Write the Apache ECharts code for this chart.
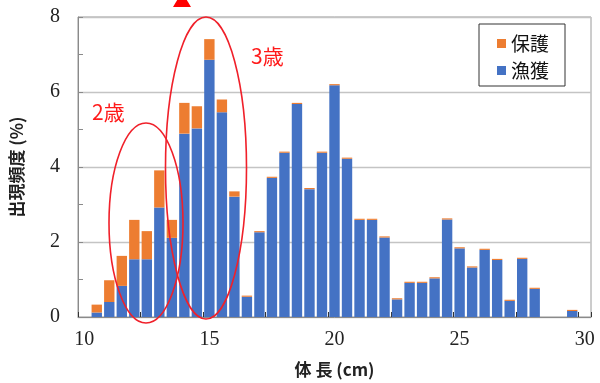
<!DOCTYPE html>
<html>
<head>
<meta charset="utf-8">
<script src="https://cdn.jsdelivr.net/npm/echarts@6/dist/echarts.min.js"></script>
<style>
html,body{margin:0;padding:0;background:#fff;}
#chart{width:600px;height:383px;}
</style>
</head>
<body>
<div id="chart"></div>
<script>
// 体長 (cm) categories, 0.5 cm bins
const categories = ['10','10.5','11','11.5','12','12.5','13','13.5','14','14.5',
  '15','15.5','16','16.5','17','17.5','18','18.5','19','19.5',
  '20','20.5','21','21.5','22','22.5','23','23.5','24','24.5',
  '25','25.5','26','26.5','27','27.5','28','28.5','29','29.5','30'];
// 漁獲 (%)
const catchValues = [0,0.12,0.40,0.83,1.54,1.54,2.92,2.11,4.89,5.03,
  6.86,5.46,3.21,0.54,2.26,3.71,4.38,5.68,3.41,4.38,
  6.18,4.22,2.59,2.59,2.12,0.47,0.91,0.91,1.03,2.60,
  1.83,1.32,1.79,1.52,0.43,1.55,0.75,0,0,0.16,0];
// 保護 (%)
const protectValues = [0,0.21,0.58,0.80,1.05,0.75,0.99,0.48,0.82,0.59,
  0.55,0.34,0.14,0.03,0.03,0.03,0.03,0.03,0.03,0.03,
  0.03,0.03,0.03,0.03,0.03,0.03,0.03,0.03,0.03,0.03,
  0.03,0.03,0.03,0.03,0.03,0.03,0.03,0,0,0.03,0];
const yTicks = [0,2,4,6,8];
const seriesNames = ['保護','漁獲'];

const chart = echarts.init(document.getElementById('chart'), null, {renderer:'canvas'});
const serif = '"Liberation Serif", "DejaVu Serif", serif';
const cjk = '"Noto Sans CJK JP", sans-serif';
chart.setOption({
  animation:false,
  backgroundColor:'#ffffff',
  grid:{left:74,right:9,top:17,bottom:61.5,show:true,borderColor:'#9a9a9a',borderWidth:1},
  legend:{
    data:seriesNames,
    orient:'vertical',
    left:479, top:24,
    icon:'rect', itemWidth:9, itemHeight:9, itemGap:8,
    padding:[10,16,6,18],
    backgroundColor:'#fff',
    borderColor:'#333', borderWidth:1,
    textStyle:{fontFamily:cjk,fontSize:19,color:'#111'}
  },
  xAxis:{
    type:'category',
    data:categories,
    name:'体 長 (cm)',
    nameLocation:'middle',
    nameGap:44,
    nameTextStyle:{fontFamily:cjk,fontSize:17,fontWeight:'bold',color:'#222'},
    axisLine:{lineStyle:{color:'#8a8a8a',width:1}},
    axisTick:{show:true,inside:true,interval:4,length:5,lineStyle:{color:'#333'}},
    axisLabel:{interval:9,margin:13,fontFamily:serif,fontSize:20,color:'#222'},
    splitLine:{show:false}
  },
  yAxis:{
    type:'value',
    min:yTicks[0], max:yTicks[yTicks.length-1], interval:2,
    name:'出現頻度 (%)',
    nameLocation:'middle',
    nameGap:53,
    nameRotate:90,
    nameTextStyle:{fontFamily:cjk,fontSize:17,fontWeight:'bold',color:'#222'},
    axisLine:{show:true,lineStyle:{color:'#8a8a8a',width:1}},
    axisTick:{show:true,inside:true,length:5,lineStyle:{color:'#8a8a8a'}},
    minorTick:{show:true,splitNumber:2,length:5,lineStyle:{color:'#8a8a8a'}},
    axisLabel:{margin:18,fontFamily:serif,fontSize:20,color:'#222'},
    splitLine:{show:true,lineStyle:{color:'#c4c4c4',width:1.3}}
  },
  series:[
    {name:'漁獲',type:'bar',stack:'a',data:catchValues,barCategoryGap:'17%',
     itemStyle:{color:'#4472C4'}},
    {name:'保護',type:'bar',stack:'a',data:protectValues,barCategoryGap:'17%',
     itemStyle:{color:'#ED7D31'}}
  ],
  graphic:[
    {type:'ellipse',shape:{cx:146,cy:223,rx:37,ry:100},
     style:{fill:'none',stroke:'#f0202a',lineWidth:1.6},z:100},
    {type:'ellipse',shape:{cx:206,cy:168,rx:40.5,ry:151},
     style:{fill:'none',stroke:'#f0202a',lineWidth:1.6},z:100},
    {type:'polygon',shape:{points:[[173,7],[191,7],[182,-8]]},
     style:{fill:'#ff0000'},z:100},
    {type:'text',left:92,top:102,style:{text:'2歳',fontFamily:cjk,fontSize:21,fill:'#ff1a1a'},z:100},
    {type:'text',left:251,top:46,style:{text:'3歳',fontFamily:cjk,fontSize:21,fill:'#ff1a1a'},z:100}
  ]
});
</script>
</body>
</html>
